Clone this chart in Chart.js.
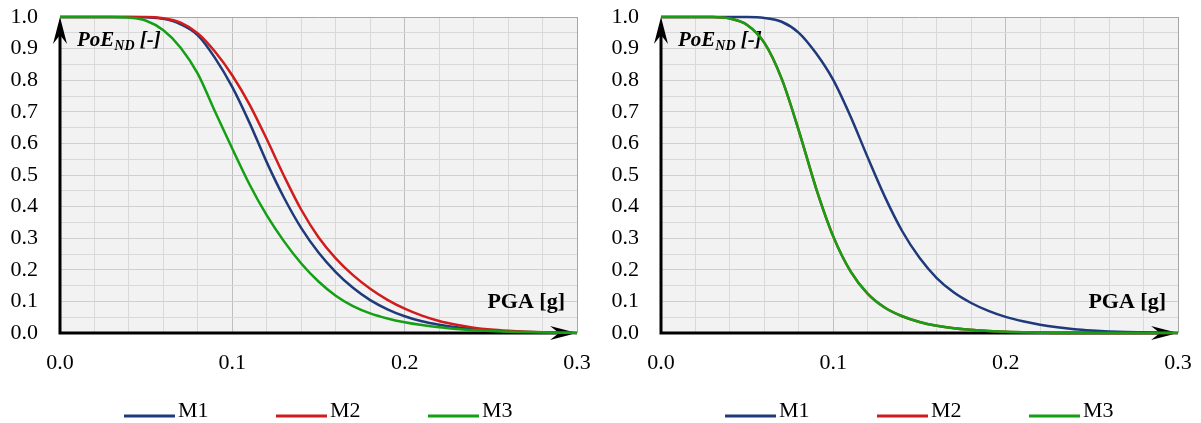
<!DOCTYPE html>
<html>
<head>
<meta charset="utf-8">
<script src="https://cdn.jsdelivr.net/npm/chart.js@4.4.1/dist/chart.umd.min.js"></script>
<style>
  html, body { margin: 0; padding: 0; background: #fff; }
  #wrap { position: relative; width: 1201px; height: 423px; }
  .panel { position: absolute; top: 0; width: 600px; height: 423px; }
  #left { left: 0; }
  #right { left: 601px; }
</style>
</head>
<body>
<div id="wrap">
  <div class="panel" id="left"><canvas id="chart-left" width="600" height="423"></canvas></div>
  <div class="panel" id="right"><canvas id="chart-right" width="600" height="423"></canvas></div>
</div>
<script>
// ===================== DATA =====================

const pga = [0.00, 0.01, 0.02, 0.03, 0.04, 0.05, 0.06, 0.07, 0.08, 0.09,
             0.10, 0.11, 0.12, 0.13, 0.14, 0.15, 0.16, 0.17, 0.18, 0.19,
             0.20, 0.21, 0.22, 0.23, 0.24, 0.25, 0.26, 0.27, 0.28, 0.29, 0.30];

const seriesNames = ['M1', 'M2', 'M3'];

// left panel
const leftM1 = [1, 1, 1, 1, 1, 0.999, 0.994, 0.977, 0.942, 0.87,
                0.778, 0.665, 0.54, 0.428, 0.332, 0.255, 0.193, 0.143, 0.104, 0.075,
                0.053, 0.037, 0.026, 0.018, 0.012, 0.008, 0.005, 0.003, 0.002, 0.001, 0];
const leftM2 = [1, 1, 1, 1, 1, 1, 0.996, 0.982, 0.948, 0.89,
                0.815, 0.723, 0.613, 0.497, 0.39, 0.303, 0.236, 0.183, 0.14, 0.105,
                0.077, 0.055, 0.038, 0.026, 0.017, 0.011, 0.007, 0.004, 0.002, 0.001, 0];
const leftM3 = [1, 1, 1, 1, 0.998, 0.988, 0.958, 0.903, 0.82, 0.70,
                0.583, 0.47, 0.372, 0.29, 0.22, 0.163, 0.118, 0.085, 0.062, 0.046,
                0.034, 0.025, 0.018, 0.013, 0.009, 0.006, 0.004, 0.003, 0.002, 0.001, 0];

// right panel
const rightM1 = [1, 1, 1, 1, 1, 1, 0.997, 0.985, 0.95, 0.885,
                 0.80, 0.685, 0.555, 0.43, 0.322, 0.238, 0.174, 0.128, 0.095, 0.07,
                 0.051, 0.037, 0.026, 0.018, 0.012, 0.008, 0.005, 0.003, 0.002, 0.001, 0];
const rightM2 = [1, 1, 1, 1, 0.995, 0.975, 0.918, 0.805, 0.64, 0.458,
                 0.305, 0.195, 0.124, 0.08, 0.053, 0.035, 0.023, 0.015, 0.01, 0.006,
                 0.004, 0.002, 0.001, 0, 0, 0, 0, 0, 0, 0, 0];
const rightM3 = [1, 1, 1, 1, 0.995, 0.975, 0.918, 0.805, 0.64, 0.458,
                 0.305, 0.195, 0.124, 0.08, 0.053, 0.035, 0.023, 0.015, 0.01, 0.006,
                 0.004, 0.002, 0.001, 0, 0, 0, 0, 0, 0, 0, 0];

const seriesColors = ['#1f3a7a', '#d01c1c', '#14a014'];

// ===================== STYLE =====================

const FONT = '"Liberation Serif", "Times New Roman", serif';
const TICK_SIZE = 22;

function isMajor(v) {
    return Math.abs(v * 10 - Math.round(v * 10)) < 1e-6;
}

// ===================== PLUGINS =====================

const plotBackground = {
    id: 'plotBackground',
    beforeDraw(chart) {
        const { ctx, chartArea: a } = chart;
        ctx.save();
        ctx.fillStyle = '#f2f2f2';
        ctx.fillRect(a.left, a.top, a.width, a.height);
        ctx.restore();
    }
};

function stealthArrow(ctx, x, y, dir) {
    const len = 27, half = 7, notch = 18;
    ctx.beginPath();
    if (dir === 'right') {
        ctx.moveTo(x, y);
        ctx.lineTo(x - len, y - half);
        ctx.lineTo(x - notch, y);
        ctx.lineTo(x - len, y + half);
    } else {
        ctx.moveTo(x, y);
        ctx.lineTo(x - half, y + len);
        ctx.lineTo(x, y + notch);
        ctx.lineTo(x + half, y + len);
    }
    ctx.closePath();
    ctx.fill();
}

// black axes with arrow heads + axis titles, under the curves
const axesAndTitles = {
    id: 'axesAndTitles',
    beforeDatasetsDraw(chart) {
        const { ctx, chartArea: a } = chart;
        ctx.save();
        ctx.strokeStyle = '#000';
        ctx.fillStyle = '#000';
        ctx.lineWidth = 3;
        ctx.beginPath();
        ctx.moveTo(a.left - 1.5, a.bottom);
        ctx.lineTo(a.right - 12, a.bottom);
        ctx.moveTo(a.left, a.bottom + 1.5);
        ctx.lineTo(a.left, a.top + 12);
        ctx.stroke();
        stealthArrow(ctx, a.right, a.bottom, 'right');
        stealthArrow(ctx, a.left, a.top, 'up');

        // y title: PoE_ND [-]
        let x = a.left + 17;
        const y = a.top + 29;
        ctx.textBaseline = 'alphabetic';
        ctx.textAlign = 'left';
        ctx.font = 'italic bold 21px ' + FONT;
        ctx.fillText('PoE', x, y);
        x += ctx.measureText('PoE').width;
        ctx.font = 'italic bold 14px ' + FONT;
        ctx.fillText('ND', x, y + 4);
        x += ctx.measureText('ND').width;
        ctx.font = 'italic bold 21px ' + FONT;
        ctx.fillText(' [-]', x, y);

        // x title
        ctx.font = 'bold 22px ' + FONT;
        ctx.textAlign = 'right';
        ctx.fillText('PGA [g]', a.right - 12, a.bottom - 25);
        ctx.restore();
    }
};

// legend below the plot, line sample + name
const lineLegend = {
    id: 'lineLegend',
    afterDraw(chart) {
        const { ctx, chartArea: a } = chart;
        ctx.save();
        ctx.font = TICK_SIZE + 'px ' + FONT;
        ctx.textBaseline = 'alphabetic';
        ctx.textAlign = 'left';
        let x = a.left + 64;
        const y = 417;
        chart.data.datasets.forEach(ds => {
            ctx.strokeStyle = ds.borderColor;
            ctx.lineWidth = 3;
            ctx.beginPath();
            ctx.moveTo(x, y - 1);
            ctx.lineTo(x + 51, y - 1);
            ctx.stroke();
            ctx.fillStyle = '#000';
            ctx.fillText(ds.label, x + 54, y);
            x += 152;
        });
        ctx.restore();
    }
};

// ===================== CHARTS =====================

function makeChart(canvasId, series) {
    const datasets = series.map((vals, i) => ({
        label: seriesNames[i],
        data: pga.map((x, k) => ({ x, y: vals[k] })),
        borderColor: seriesColors[i],
        backgroundColor: seriesColors[i],
        borderWidth: 2.5,
        pointRadius: 0,
        cubicInterpolationMode: 'monotone',
        clip: 6,
        order: series.length - i   // later series drawn on top
    }));

    return new Chart(document.getElementById(canvasId), {
        type: 'line',
        data: { datasets },
        options: {
            responsive: false,
            animation: false,
            events: [],
            layout: { padding: { top: 17, right: 23, bottom: 0, left: 0 } },
            plugins: { legend: { display: false }, tooltip: { enabled: false } },
            scales: {
                x: {
                    type: 'linear',
                    min: 0,
                    max: 0.3,
                    // fixed axis box; label overflow handled by layout padding
                    afterFit: s => { s.height = 90; s.paddingLeft = 0; s.paddingRight = 0; },
                    ticks: {
                        stepSize: 0.02,
                        autoSkip: false,
                        maxRotation: 0,
                        padding: 17,
                        color: '#000',
                        font: { family: FONT, size: TICK_SIZE },
                        callback: v => isMajor(v) ? v.toFixed(1) : ''
                    },
                    grid: {
                        drawTicks: false,
                        lineWidth: 1,
                        color: c => {
                            const v = c.tick ? c.tick.value : 0;
                            if (Math.abs(v - 0.3) < 1e-6) return '#a6a6a6';
                            return isMajor(v) ? '#bfbfbf' : '#d9d9d9';
                        }
                    },
                    border: { display: false }
                },
                y: {
                    min: 0,
                    max: 1,
                    afterFit: s => { s.width = 60; s.paddingTop = 0; s.paddingBottom = 0; },
                    ticks: {
                        stepSize: 0.05,
                        autoSkip: false,
                        padding: 22,
                        color: '#000',
                        font: { family: FONT, size: TICK_SIZE },
                        callback: v => isMajor(v) ? v.toFixed(1) : ''
                    },
                    grid: {
                        drawTicks: false,
                        lineWidth: 1,
                        color: c => {
                            const v = c.tick ? c.tick.value : 0;
                            if (Math.abs(v - 1) < 1e-6) return '#a6a6a6';
                            return isMajor(v) ? '#cfcfcf' : '#d9d9d9';
                        }
                    },
                    border: { display: false }
                }
            }
        },
        plugins: [plotBackground, axesAndTitles, lineLegend]
    });
}

makeChart('chart-left', [leftM1, leftM2, leftM3]);
makeChart('chart-right', [rightM1, rightM2, rightM3]);
</script>
</body>
</html>
